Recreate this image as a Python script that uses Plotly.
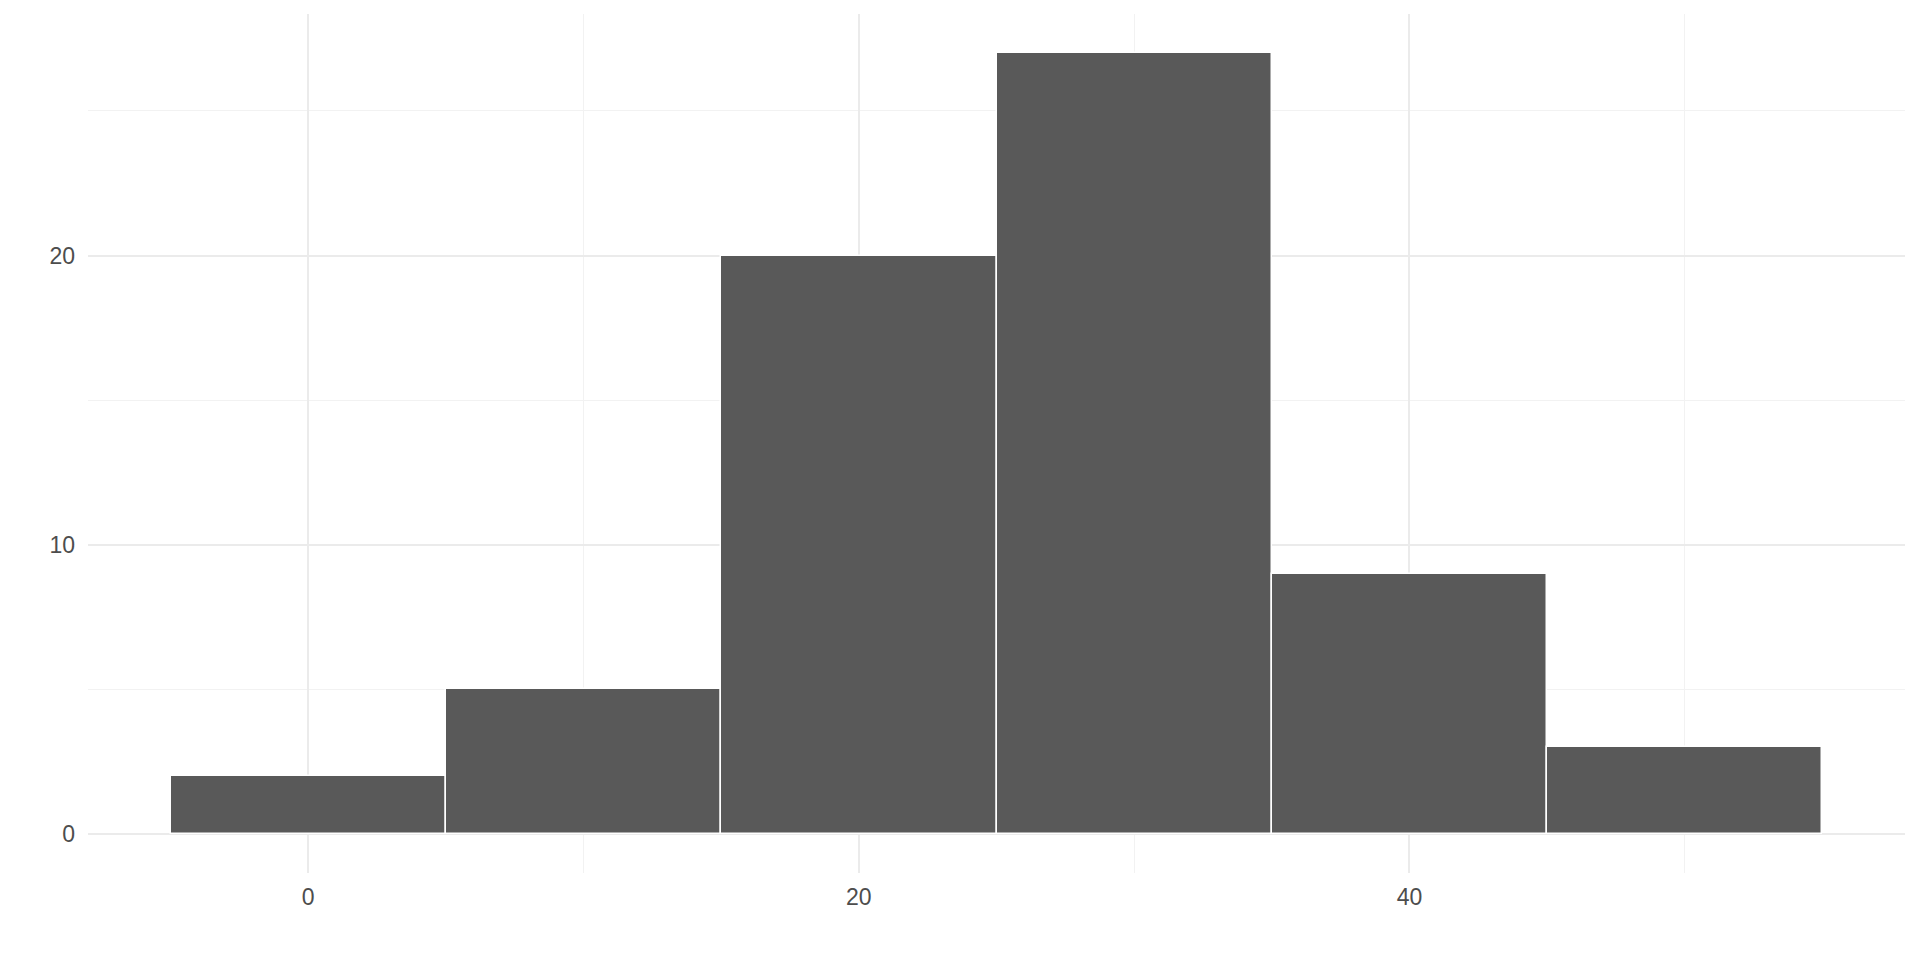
import plotly.graph_objects as go

bin_centers = [0, 10, 20, 30, 40, 50]
counts = [2, 5, 20, 27, 9, 3]
bin_width = 10
x_tickvals = [0, 20, 40]
y_tickvals = [0, 10, 20]

fig = go.Figure()
fig.add_trace(go.Bar(
    x=bin_centers,
    y=counts,
    width=[bin_width] * len(bin_centers),
    marker=dict(color="#595959", line=dict(color="white", width=1.5)),
    hoverinfo="x+y",
))

axis_font = dict(family="Liberation Sans, Arial, sans-serif", size=23, color="#4D4D4D")

fig.update_layout(
    width=1904, height=944,
    margin=dict(l=80, r=7, t=6, b=79),
    paper_bgcolor="white", plot_bgcolor="white",
    showlegend=False,
    bargap=0,
    xaxis=dict(
        range=[-8, 58], tickvals=x_tickvals, ticktext=[str(v) for v in x_tickvals],
        showgrid=True, gridcolor="#EBEBEB", gridwidth=1.6,
        zeroline=False, showline=False, ticks="",
        tickfont=axis_font, ticklabelstandoff=8,
        minor=dict(tickvals=[10, 30, 50], showgrid=True, gridcolor="#F2F2F2", gridwidth=1, ticks=""),
    ),
    yaxis=dict(
        range=[-1.35, 28.35], tickvals=y_tickvals, ticktext=[str(v) for v in y_tickvals],
        showgrid=True, gridcolor="#EBEBEB", gridwidth=1.6,
        zeroline=False, showline=False, ticks="",
        tickfont=axis_font, ticklabelstandoff=12,
        minor=dict(tickvals=[5, 15, 25], showgrid=True, gridcolor="#F2F2F2", gridwidth=1, ticks=""),
    ),
)

fig.write_html("out.html")
